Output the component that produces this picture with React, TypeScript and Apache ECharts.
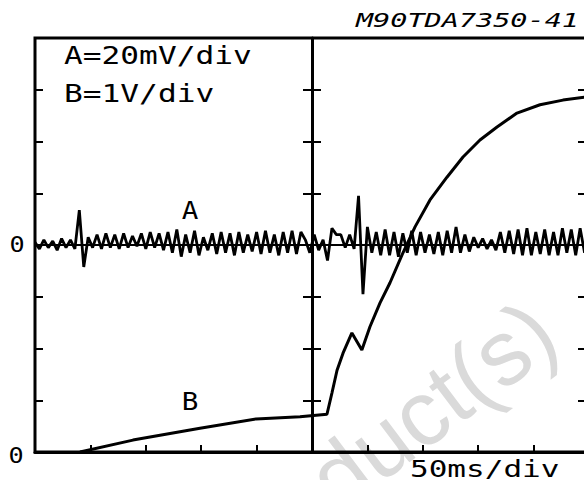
import React, { useEffect, useRef } from "react";
import * as echarts from "echarts";

// ---- Data ----
// Trace A: noise in mV, sampled every aStepMs milliseconds from t = 0
const aStepMs = 4;
const aValues = [
  1, -1.5, 2, -1, 1.5, -2, 2.5, -1, 2, -1.5,
  13.5, -8.5, 3, -1, 4, -1.5, 4.5, -1, 4, -1.5,
  4.5, -1, 3.5, -0.5, 4.5, -1.5, 5, -1, 4.5, -2,
  5, -3, 6, -4.5, 4, -3, 5.5, -4, 3, -2,
  4.5, -3.5, 5, -3, 4.5, -4, 5, -3, 4, -2.5,
  5, -3.5, 5.5, -3, 4, -4, 5, -3, 5.5, -3.5,
  5, 2, -3, 4, -2, 2, -6, 6.5, 4, 4,
  -1, 4, -1.5, 19, -19, 7, -3, 5, -4, 6,
  -4, 5, -4.5, 4.5, -3, 5.5, -4, 5, -3, 4,
  -3.5, 5, -4, 5.5, -3, 7, -3, 4, -2.5, 3,
  -1, 2.5, -1.5, 2, -2, 5, -3, 5.5, -3.5, 6,
  -4, 6.5, -4, 5, -3.5, 6, -4, 5, -4, 6.5,
  -3, 6, -4, 6.5, -3, 4,
];

// Trace B: volts vs time (ms)
const bTimes = [40.6, 88.4, 148.9, 199.5, 239.2, 263.5, 268, 272.6, 278, 286, 295, 302.3, 311.4, 320.4, 332.1, 343, 356.5, 371.8, 386.3, 401.6, 417, 435, 455.8, 476.5, 500];
const bVolts = [0, 0.23, 0.46, 0.64, 0.68, 0.73, 1.14, 1.58, 1.91, 2.3, 1.97, 2.42, 2.88, 3.27, 3.85, 4.35, 4.87, 5.31, 5.7, 6.03, 6.28, 6.55, 6.71, 6.8, 6.87];

// Axis scales
const timeMin = 0;
const timeMax = 500;
const timeDiv = 50;
const aMin = -80;
const aMax = 80;
const aDiv = 20;
const bMin = 0;
const bMax = 8;
const bDiv = 1;

// Texts
const figureId = "M90TDA7350-41";
const scaleA = "A=20mV/div";
const scaleB = "B=1V/div";
const timeScale = "50ms/div";
const traceALabel = "A";
const traceBLabel = "B";
const zeroLabel = "0";
const watermark = "Obsolete Product(s)";

const MONO = "'DejaVu Sans Mono', monospace";

export default function App() {
  const ref = useRef<HTMLDivElement>(null);

  useEffect(() => {
    if (!ref.current) return;
    const chart = echarts.init(ref.current, null, { renderer: "svg" });

    const aData = aValues.map((v, i) => [i * aStepMs, v]);
    const bData = bTimes.map((t, i) => [t, bVolts[i]]);

    const black = "#000";
    const hidden = { show: false };

    const txt = (
      text: string,
      x: number,
      y: number,
      size: number,
      align: string,
      sx: number,
      extra: any = {}
    ) => ({
      type: "text",
      x,
      y,
      scaleX: sx,
      z: 10,
      style: {
        text,
        fill: black,
        font: `${extra.italic ? "italic " : ""}${size}px ${MONO}`,
        textAlign: align,
        textVerticalAlign: "middle",
      },
    });

    const tickStyle = { color: black, width: 2 };

    chart.setOption({
      animation: false,
      backgroundColor: "#fff",
      grid: {
        left: 35,
        top: 38,
        width: 554,
        height: 414,
        show: true,
        borderColor: black,
        borderWidth: 3,
        backgroundColor: "transparent",
        containLabel: false,
        outerBoundsMode: "none",
      },
      xAxis: [
        {
          type: "value",
          min: timeMin,
          max: timeMax,
          interval: timeDiv,
          position: "bottom",
          axisLine: { show: true, onZero: false, lineStyle: { color: black, width: 3 } },
          axisTick: { show: true, inside: true, length: 7, lineStyle: tickStyle },
          axisLabel: hidden,
          splitLine: hidden,
        },
        {
          type: "value",
          min: timeMin,
          max: timeMax,
          interval: timeDiv,
          position: "bottom",
          offset: -207,
          axisLine: { show: true, onZero: false, lineStyle: { color: black, width: 2 } },
          axisTick: hidden,
          axisLabel: hidden,
          splitLine: hidden,
        },
      ],
      yAxis: [
        {
          type: "value",
          min: aMin,
          max: aMax,
          interval: aDiv,
          position: "left",
          axisLine: { show: false, onZero: false },
          axisTick: { show: true, inside: true, length: 8, lineStyle: tickStyle },
          axisLabel: hidden,
          splitLine: hidden,
        },
        {
          type: "value",
          min: bMin,
          max: bMax,
          interval: bDiv,
          position: "right",
          axisLine: { show: false, onZero: false },
          axisTick: { show: true, inside: true, length: 11, lineStyle: tickStyle },
          axisLabel: hidden,
          splitLine: hidden,
        },
        {
          type: "value",
          min: aMin,
          max: aMax,
          interval: aDiv,
          position: "left",
          offset: -277,
          axisLine: { show: true, onZero: false, lineStyle: { color: black, width: 3 } },
          axisTick: { show: true, inside: true, length: 9, lineStyle: tickStyle },
          axisLabel: hidden,
          splitLine: hidden,
        },
        {
          type: "value",
          min: aMin,
          max: aMax,
          interval: aDiv,
          position: "left",
          offset: -277,
          axisLine: { show: false, onZero: false },
          axisTick: { show: true, inside: false, length: 9, lineStyle: tickStyle },
          axisLabel: hidden,
          splitLine: hidden,
        },
      ],
      series: [
        {
          name: "A",
          type: "line",
          xAxisIndex: 0,
          yAxisIndex: 0,
          data: aData,
          symbol: "none",
          lineStyle: { color: black, width: 2.8 },
          z: 5,
        },
        {
          name: "B",
          type: "line",
          xAxisIndex: 0,
          yAxisIndex: 1,
          data: bData,
          symbol: "none",
          lineStyle: { color: black, width: 3 },
          z: 5,
        },
      ],
      graphic: [
        {
          type: "text",
          x: 572,
          y: 358,
          rotation: (37 * Math.PI) / 180,
          z: -10,
          silent: true,
          style: {
            text: watermark,
            fill: "#dadada",
            font: "92px 'Liberation Sans', Arial, sans-serif",
            textAlign: "right",
            textVerticalAlign: "bottom",
          },
        },
        txt(figureId, 579, 21, 19, "right", 1.5, { italic: true }),
        txt(scaleA, 64, 56, 24, "left", 1.3),
        txt(scaleB, 64, 94, 24, "left", 1.3),
        txt(traceALabel, 190, 211, 24, "center", 1.15),
        txt(traceBLabel, 190, 402, 24, "center", 1.15),
        txt(zeroLabel, 17, 244, 21, "center", 1.2),
        txt(zeroLabel, 16, 455, 21, "center", 1.2),
        txt(timeScale, 410, 469, 23, "left", 1.35),
      ],
    });

    return () => chart.dispose();
  }, []);

  return (
    <div
      ref={ref}
      style={{ position: "absolute", left: 0, top: 0, width: 584, height: 480 }}
    />
  );
}
